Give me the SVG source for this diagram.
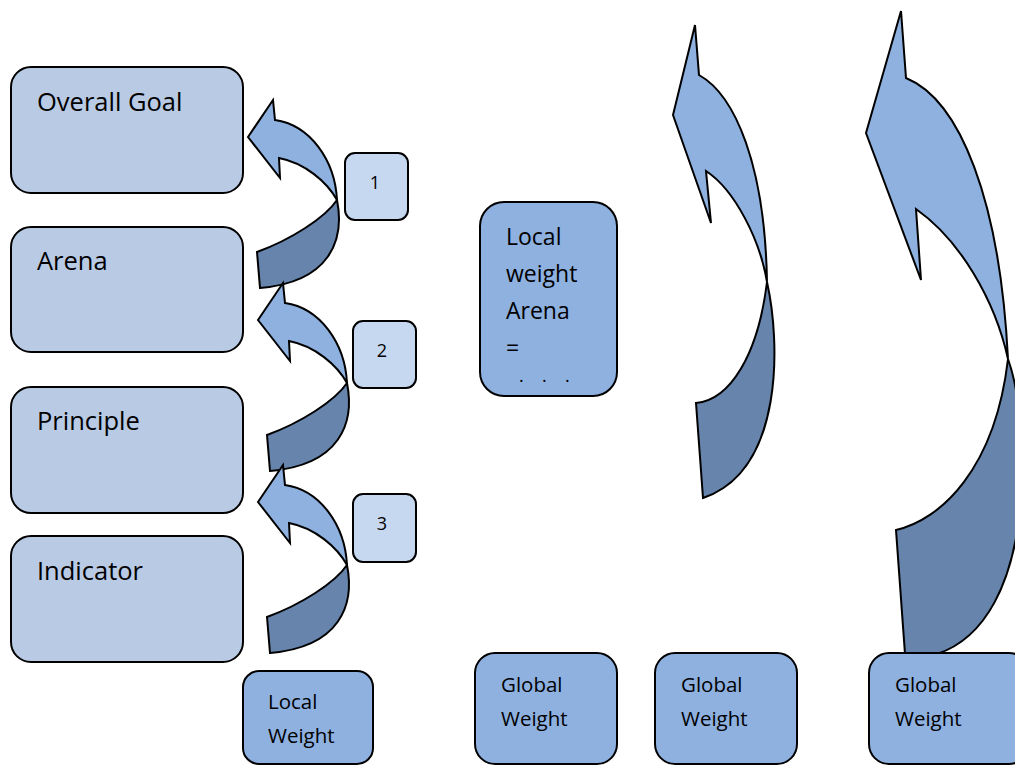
<svg xmlns="http://www.w3.org/2000/svg" width="1015" height="765" viewBox="0 0 1015 765">
<style>
.lvl{fill:#b9cae4;stroke:#000;stroke-width:2}
.num{fill:#c6d8f0;stroke:#000;stroke-width:2}
.wt{fill:#8eb1e0;stroke:#000;stroke-width:2}
.lt{fill:#8eb1e0;stroke:#000;stroke-width:2;stroke-linejoin:miter}
.dk{fill:#6784ac;stroke:#000;stroke-width:2;stroke-linejoin:miter}
text{font-family:"Open Sans","Liberation Sans",sans-serif;fill:#000}
.t24{font-size:25.5px}
.t22{font-size:23px}
.t20{font-size:20.5px}
.t18{font-size:18px}
</style>
<defs>
<g id="smallArrow">
<path class="dk" d="M257,252 C290,240 325,218 337,200 C345,240 330,282 260,288 Z"/>
<path class="lt" d="M248,137 L273,100 L275,120 C310,125 335,160 337,200 C327,182 305,163 279,158 L280,178 Z"/>
</g>
</defs>

<g id="node-overall-goal"><rect class="lvl" x="11" y="67" width="232" height="126" rx="20"/><text class="t24" x="37" y="111">Overall Goal</text></g>
<g id="node-arena"><rect class="lvl" x="11" y="227" width="232" height="125" rx="20"/><text class="t24" x="37" y="270">Arena</text></g>
<g id="node-principle"><rect class="lvl" x="11" y="387" width="232" height="126" rx="20"/><text class="t24" x="37" y="430">Principle</text></g>
<g id="node-indicator"><rect class="lvl" x="11" y="536" width="232" height="126" rx="20"/><text class="t24" x="37" y="580">Indicator</text></g>

<g id="connectors">
<use href="#smallArrow"/>
<use href="#smallArrow" transform="translate(10,183)"/>
<use href="#smallArrow" transform="translate(10,365)"/>
<g id="big-arrow-2">
<path class="dk" d="M696,403 C730,400 758,355 767,282 C780,340 785,470 703,498 Z"/>
<path class="lt" d="M673,115 L695,25 L699,75 C735,95 765,165 767,282 C760,240 735,190 706,171 L711,223 Z"/>
</g>
<g id="big-arrow-3">
<path class="dk" d="M896,530 C940,520 995,470 1008,359 C1030,420 1040,620 937,654 L905,654 Z"/>
<path class="lt" d="M866,133 L901,11 L906,78 C960,100 1000,200 1008,359 C995,300 960,240 916,209 L921,280 Z"/>
</g>
</g>

<g id="node-1"><rect class="num" x="345" y="153" width="63" height="67" rx="10"/><text class="t18" x="375" y="189" text-anchor="middle">1</text></g>
<g id="node-2"><rect class="num" x="353" y="321" width="63" height="67" rx="10"/><text class="t18" x="382" y="357" text-anchor="middle">2</text></g>
<g id="node-3"><rect class="num" x="353" y="494" width="63" height="68" rx="10"/><text class="t18" x="382" y="530" text-anchor="middle">3</text></g>

<g id="node-local-weight-arena"><rect class="wt" x="480" y="202" width="137" height="194" rx="24"/>
<text class="t22" x="506" y="245">Local</text>
<text class="t22" x="506" y="282">weight</text>
<text class="t22" x="506" y="319">Arena</text>
<text class="t22" x="506" y="356">=</text>
<text class="t18" x="519" y="382">.</text><text class="t18" x="542" y="382">.</text><text class="t18" x="565" y="382">.</text>
</g>

<g id="node-local-weight"><rect class="wt" x="243" y="671" width="130" height="93" rx="16"/><text class="t20" x="268" y="709">Local</text><text class="t20" x="268" y="743">Weight</text></g>
<g id="node-global-weight-1"><rect class="wt" x="475" y="653" width="142" height="111" rx="20"/><text class="t20" x="501" y="692">Global</text><text class="t20" x="501" y="726">Weight</text></g>
<g id="node-global-weight-2"><rect class="wt" x="655" y="653" width="142" height="111" rx="20"/><text class="t20" x="681" y="692">Global</text><text class="t20" x="681" y="726">Weight</text></g>
<g id="node-global-weight-3"><rect class="wt" x="869" y="653" width="160" height="111" rx="20"/><text class="t20" x="895" y="692">Global</text><text class="t20" x="895" y="726">Weight</text></g>
</svg>
